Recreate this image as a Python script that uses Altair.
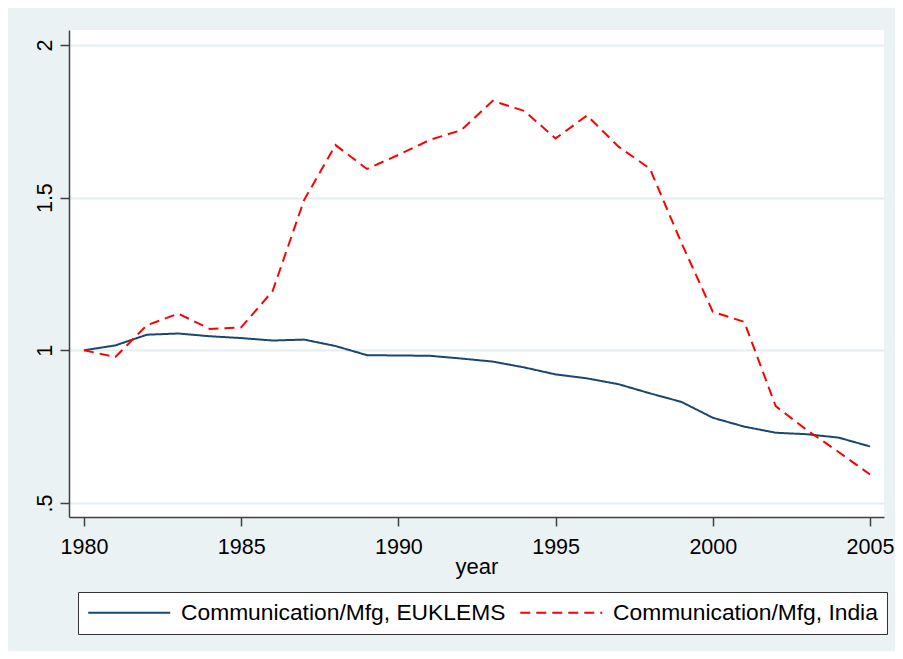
import altair as alt
import pandas as pd

years = list(range(1980, 2006))
euklems = [1.000, 1.016, 1.051, 1.055, 1.046, 1.040, 1.032, 1.035, 1.014, 0.984,
           0.983, 0.982, 0.973, 0.963, 0.944, 0.921, 0.908, 0.889, 0.859, 0.831,
           0.779, 0.750, 0.730, 0.725, 0.714, 0.685]
india = [1.000, 0.978, 1.082, 1.120, 1.070, 1.075, 1.194, 1.492, 1.672, 1.594,
         1.640, 1.689, 1.721, 1.817, 1.784, 1.694, 1.769, 1.667, 1.595, 1.352,
         1.126, 1.093, 0.817, 0.738, 0.667, 0.593]
series_names = ["Communication/Mfg, EUKLEMS", "Communication/Mfg, India"]
x_ticks = [1980, 1985, 1990, 1995, 2000, 2005]
y_ticks = [0.5, 1.0, 1.5, 2.0]
y_tick_labels = [".5", "1", "1.5", "2"]

rows = []
for y, a, b in zip(years, euklems, india):
    rows.append({"year": y, "value": a, "series": series_names[0]})
    rows.append({"year": y, "value": b, "series": series_names[1]})
df = pd.DataFrame(rows)

label_expr = " : ".join(
    f"datum.value == {v} ? '{l}'" for v, l in zip(y_ticks, y_tick_labels)
) + " : datum.label"

BG = "#eaf2f3"
FONT = "Liberation Sans"

chart = alt.Chart(df).mark_line(strokeWidth=2).encode(
    x=alt.X("year:Q",
            scale=alt.Scale(domain=[1979.524, 2005.444], nice=False, zero=False),
            axis=alt.Axis(values=x_ticks, format="d", grid=False, title="year",
                          tickSize=9, labelPadding=10, titleY=56,
                          titleBaseline="alphabetic")),
    y=alt.Y("value:Q",
            scale=alt.Scale(domain=[0.454, 2.049], nice=False, zero=False),
            axis=alt.Axis(values=y_ticks, labelExpr=label_expr, title=None,
                          grid=True, tickSize=9, labelAngle=270,
                          labelAlign="center", labelBaseline="alphabetic",
                          labelPadding=9)),
    color=alt.Color("series:N",
                    scale=alt.Scale(domain=series_names, range=["#1a476f", "#ff0000"]),
                    legend=alt.Legend(title=None, orient="none", legendX=9, legendY=562,
                                      direction="horizontal", columns=2,
                                      symbolType="M-1,0H7", symbolSize=420,
                                      symbolStrokeWidth=2, labelOffset=71,
                                      columnPadding=10, padding=9,
                                      strokeColor="#333333", fillColor="white",
                                      labelFontSize=22.8, labelFont=FONT,
                                      labelColor="black", labelLimit=0)),
    strokeDash=alt.StrokeDash("series:N",
                              scale=alt.Scale(domain=series_names, range=[[1, 0], [10, 6]]),
                              legend=None),
).properties(
    width=815,
    height=487,
    autosize=alt.AutoSizeParams(type="none"),
    padding={"left": 61, "top": 22, "right": 11, "bottom": 134},
    background=BG,
).configure_view(
    fill="white", stroke=None
).configure_axis(
    labelFont=FONT, titleFont=FONT, labelFontSize=21.5, titleFontSize=22,
    labelColor="black", titleColor="black", titleFontWeight="normal",
    domainColor="#404040", tickColor="#404040", domainWidth=1.5, tickWidth=1.5,
    gridColor="#e4eef1", gridWidth=2,
)

chart.save("out.html", embed_options={"renderer": "svg", "actions": False})
